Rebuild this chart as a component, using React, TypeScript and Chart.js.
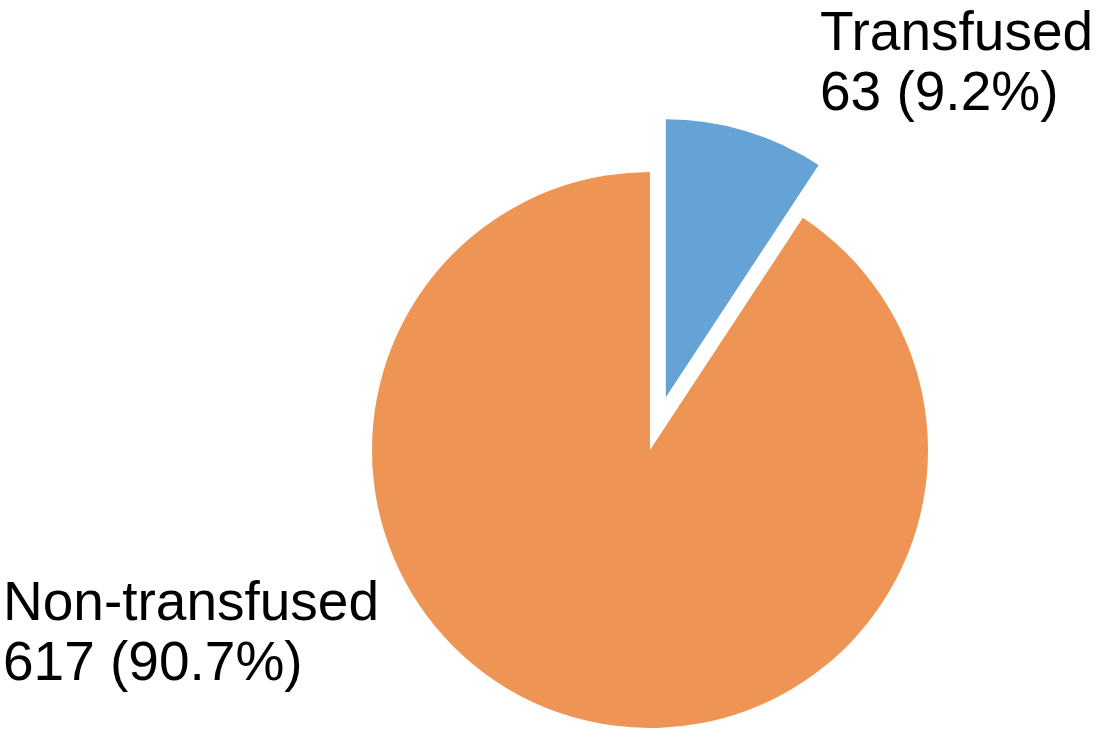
import React, { useEffect, useRef } from "react";
import { Chart, registerables } from "chart.js";

Chart.register(...registerables);

const categories = ["Transfused", "Non-transfused"];
const counts = [63, 617];
const percentLabels = ["9.2%", "90.7%"];
const colors = ["#65A2D6", "#EE9555"];
const explodeOffsets = [55, 0];

const explodePlugin = {
  id: "explode",
  afterDatasetsUpdate(chart: any) {
    const meta = chart.getDatasetMeta(0);
    meta.data.forEach((arc: any, i: number) => {
      const off = explodeOffsets[i] || 0;
      if (!off) return;
      const mid = (arc.startAngle + arc.endAngle) / 2;
      arc.x += Math.cos(mid) * off;
      arc.y += Math.sin(mid) * off;
    });
  },
};

const labelPlugin = {
  id: "sliceLabels",
  afterDraw(chart: any) {
    const ctx = chart.ctx;
    ctx.save();
    ctx.fillStyle = "#000";
    ctx.font = '55px "Liberation Sans", Arial, Helvetica, sans-serif';
    ctx.textAlign = "left";
    ctx.textBaseline = "alphabetic";
    const pos = [
      { x: 820, y: 50 },
      { x: 3, y: 620 },
    ];
    categories.forEach((c, i) => {
      ctx.fillText(c, pos[i].x, pos[i].y);
      ctx.fillText(`${counts[i]} (${percentLabels[i]})`, pos[i].x, pos[i].y + 60);
    });
    ctx.restore();
  },
};

export default function App() {
  const ref = useRef<HTMLCanvasElement | null>(null);
  useEffect(() => {
    if (!ref.current) return;
    const chart = new Chart(ref.current, {
      type: "pie",
      data: {
        labels: categories,
        datasets: [
          {
            data: counts,
            backgroundColor: colors,
            borderWidth: 0,
          },
        ],
      },
      options: {
        animation: false,
        responsive: false,
        radius: 278,
        layout: { padding: { left: 204, top: 168, right: 0, bottom: 0 } },
        plugins: {
          legend: { display: false },
          tooltip: { enabled: false },
        },
      },
      plugins: [explodePlugin, labelPlugin],
    });
    return () => chart.destroy();
  }, []);
  return (
    <div style={{ position: "fixed", left: 0, top: 0, width: 1096, height: 732, background: "#fff" }}>
      <canvas ref={ref} width={1096} height={732} style={{ width: 1096, height: 732 }} />
    </div>
  );
}
